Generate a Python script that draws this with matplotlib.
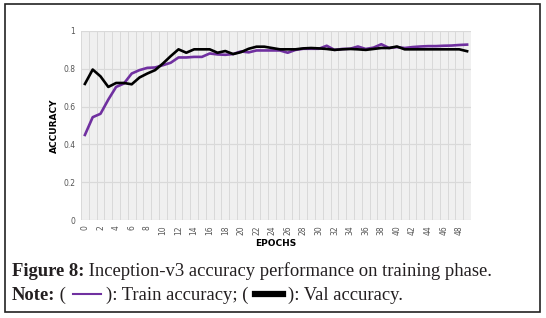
import matplotlib
matplotlib.use("Agg")
import matplotlib.pyplot as plt
from matplotlib.lines import Line2D
from matplotlib.patches import Rectangle

# values, epochs 0..49
epochs = list(range(50))
train_acc = [0.45, 0.544, 0.562, 0.637, 0.704, 0.722, 0.775, 0.793, 0.805, 0.807,
             0.819, 0.832, 0.86, 0.86, 0.863, 0.863, 0.881, 0.876, 0.874, 0.878,
             0.892, 0.887, 0.897, 0.897, 0.897, 0.897, 0.885, 0.9, 0.906, 0.906,
             0.906, 0.922, 0.9, 0.905, 0.906, 0.918, 0.905, 0.912, 0.93, 0.91,
             0.915, 0.91, 0.915, 0.918, 0.92, 0.92, 0.922, 0.923, 0.926, 0.928]
val_acc = [0.72, 0.796, 0.76, 0.704, 0.725, 0.725, 0.718, 0.754, 0.775, 0.793,
           0.828, 0.867, 0.903, 0.885, 0.903, 0.903, 0.903, 0.885, 0.894, 0.878,
           0.888, 0.906, 0.917, 0.917, 0.91, 0.903, 0.903, 0.903, 0.908, 0.91,
           0.908, 0.905, 0.9, 0.903, 0.905, 0.903, 0.9, 0.905, 0.91, 0.91,
           0.918, 0.903, 0.903, 0.903, 0.903, 0.903, 0.903, 0.903, 0.903, 0.893]
yticks = [0, 0.2, 0.4, 0.6, 0.8, 1]
ytick_labels = ["0", "0.2", "0.4", "0.6", "0.8", "1"]

purple = "#7030a0"

fig = plt.figure(figsize=(5.46, 3.18), dpi=100)
fig.patches.append(Rectangle((5 / 546, 1 - 312 / 318), 535 / 546, 308 / 318,
                             transform=fig.transFigure, fill=False,
                             edgecolor="#222222", linewidth=1.2))

ax = fig.add_axes([81 / 546, 1 - 220 / 318, 390 / 546, 189 / 318])
ax.set_facecolor("#f0f0f0")
ax.set_xlim(-0.5, 49.5)
ax.set_ylim(0, 1)
for i in range(51):
    ax.axvline(i - 0.5, color="#d9d9d9", linewidth=0.7, zorder=0)
for y in yticks:
    ax.axhline(y, color="#d9d9d9", linewidth=0.9, zorder=0)

ax.plot(epochs, train_acc, color=purple, linewidth=1.9, zorder=3)
ax.plot(epochs, val_acc, color="black", linewidth=1.9, zorder=4)

ax.set_xticks(epochs[::2])
ax.set_xticklabels([str(e) for e in epochs[::2]], rotation=90, fontsize=5.5,
                   color="#555555")
ax.set_yticks(yticks)
ax.set_yticklabels(ytick_labels, fontsize=5.5, color="#555555")
ax.tick_params(length=0, pad=4)
for s in ax.spines.values():
    s.set_visible(False)
ax.set_xlabel("EPOCHS", fontsize=6.5, fontweight="bold", labelpad=3)
ax.set_ylabel("ACCURACY", fontsize=6.5, fontweight="bold", labelpad=3)

# caption below the chart
fig.canvas.draw()
renderer = fig.canvas.get_renderer()
serif = "Liberation Serif"
fs = 13.4


def put(x, y, s, bold=False):
    t = fig.text(x, y, s, fontsize=fs, family=serif, va="center",
                 fontweight="bold" if bold else "normal", color="#231f20")
    bb = t.get_window_extent(renderer)
    return x + bb.width / fig.bbox.width


def sample(x, y, color, lw):
    w = 30 / 546
    fig.lines.append(Line2D([x + 2 / 546, x + w], [y, y], color=color,
                            linewidth=lw, transform=fig.transFigure))
    return x + w + 5 / 546


y1 = 1 - 271 / 318
x = put(12 / 546, y1, "Figure 8:", bold=True)
put(x, y1, " Inception-v3 accuracy performance on training phase.")

y2 = 1 - 295 / 318
x = put(12 / 546, y2, "Note:", bold=True)
x = put(x, y2, " ( ")
x = sample(x, y2 + 1 / 318, purple, 1.5)
x = put(x, y2, "): Train accuracy; ( ")
x = sample(x, y2 + 1 / 318, "black", 4.5)
put(x, y2, "): Val accuracy.")

fig.savefig("out.png", dpi=100)
